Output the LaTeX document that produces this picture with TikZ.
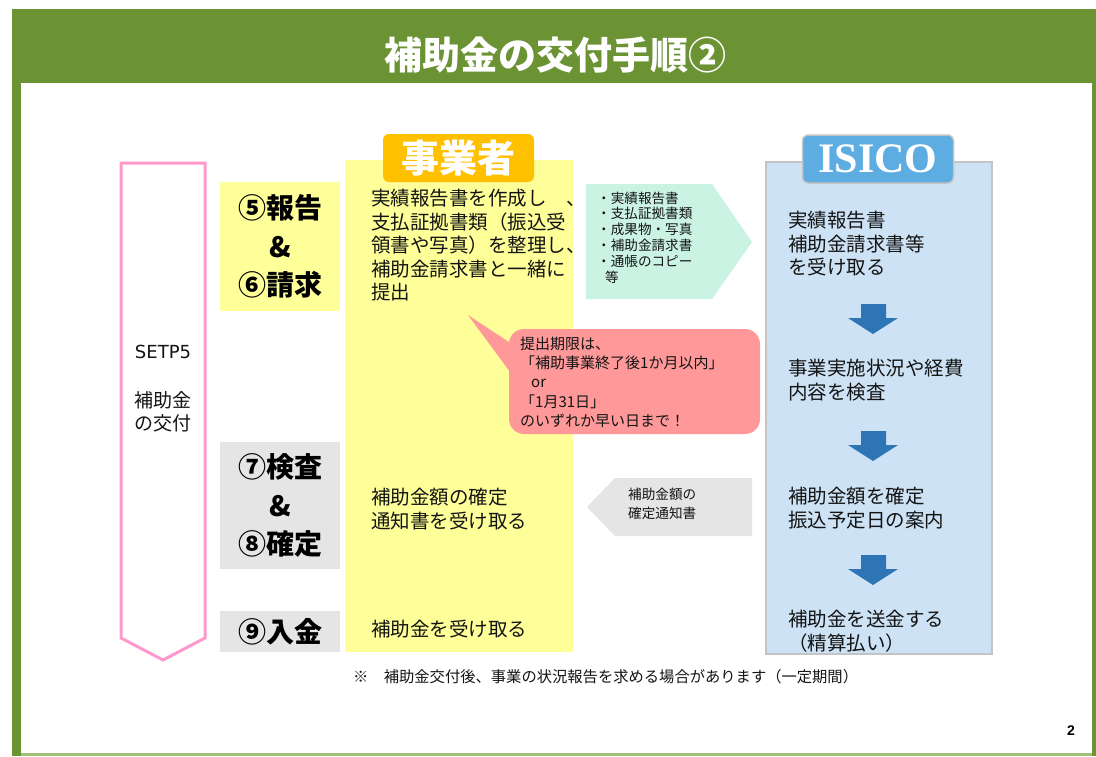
\documentclass[tikz,border=0pt]{standalone}
\usepackage{fontspec}
\setmainfont{Noto Sans CJK JP}
\newfontfamily\isicofont{Liberation Serif}
\newfontfamily\latinfont{DejaVu Sans}
\newfontfamily\pagefont{Liberation Sans}
\usepackage{tikz}

\definecolor{bandgreen}{RGB}{107,147,52}
\definecolor{edgegreen}{RGB}{160,192,120}
\definecolor{pinkline}{RGB}{255,153,204}
\definecolor{colyellow}{RGB}{255,255,153}
\definecolor{stepgrey}{RGB}{229,229,229}
\definecolor{orangelabel}{RGB}{255,192,0}
\definecolor{colblue}{RGB}{205,227,245}
\definecolor{labelblue}{RGB}{93,172,226}
\definecolor{greyline}{RGB}{196,196,196}
\definecolor{arrowblue}{RGB}{46,117,182}
\definecolor{mint}{RGB}{202,243,228}
\definecolor{calloutpink}{RGB}{255,153,153}
\definecolor{textblack}{RGB}{20,20,20}

\begin{document}
\begin{tikzpicture}[x=1pt, y=-1pt,
    body/.style={font=\fontsize{19.5}{23.5}\selectfont, text=textblack, align=left, anchor=north west, inner sep=0pt},
    small/.style={font=\fontsize{13.6}{15.8}\selectfont, text=textblack, align=left, anchor=north west, inner sep=0pt},
    steplabel/.style={font=\fontsize{28}{38.5}\selectfont\bfseries, align=center, inner sep=0pt, minimum width=120pt},
    headlabel/.style={rounded corners=6pt, minimum width=151pt, minimum height=48pt, text=white, inner sep=0pt}]
    \useasboundingbox (0,0) rectangle (1096,756);
    \fill[bandgreen] (12,9) rectangle (1096,756);
    \fill[edgegreen] (21,752) rectangle (1092,756);
    \fill[white] (21,83) rectangle (1092,753);
    \node[font=\fontsize{38}{38}\selectfont\bfseries, text=white] (title) at (555,55) {補助金の交付手順②};

    \draw[pinkline, line width=3pt, fill=white] (121,163) -- (205,163) -- (205,638) -- (163,660) -- (121,638) -- cycle;
    \node[font=\latinfont\fontsize{18}{18}\selectfont, text=textblack] (setp) at (163,352) {SETP5};
    \node[font=\fontsize{19}{23}\selectfont, text=textblack, align=center] (grant) at (163,412) {補助金\\の交付};

    \node[steplabel, fill=colyellow, minimum height=129pt] (report) at (280,246.5) {⑤報告\\\&\\⑥請求};
    \node[steplabel, fill=stepgrey, minimum height=127pt] (inspect) at (280,505.5) {⑦検査\\\&\\⑧確定};
    \node[steplabel, fill=stepgrey, minimum height=41pt] (payment) at (280,631.5) {⑨入金};

    \fill[colyellow] (345,160) rectangle (573,652);
    \node[headlabel, fill=orangelabel, font=\fontsize{38}{38}\selectfont\bfseries] (business) at (458.5,158) {事業者};
    \node[body] (submit) at (371,189) {実績報告書を作成し　、\\支払証拠書類（振込受\\領書や写真）を整理し、\\補助金請求書と一緒に\\提出};
    \node[body] (notice) at (371,488) {補助金額の確定\\通知書を受け取る};
    \node[body] (receive) at (371,620) {補助金を受け取る};

    \draw[greyline, line width=1.5pt, fill=colblue] (766,162) rectangle (992,654);
    \node[headlabel, draw=greyline, line width=1.5pt, fill=labelblue, font=\isicofont\fontsize{42}{42}\selectfont\bfseries] (isico) at (878,159) {ISICO};
    \node[body] (accept) at (788,211) {実績報告書\\補助金請求書等\\を受け取る};
    \node[body] (check) at (788,359) {事業実施状況や経費\\内容を検査};
    \node[body] (fix) at (788,487) {補助金額を確定\\振込予定日の案内};
    \node[body] (send) at (788,610) {補助金を送金する\\（精算払い）};
    \foreach \y in {304,431,555}
        \fill[arrowblue] (861,\y) -- (886,\y) -- (886,\y+14) -- (898,\y+14) -- (873,\y+30) -- (848,\y+14) -- (861,\y+14) -- cycle;

    \fill[mint] (586,184) -- (712,184) -- (752,242) -- (712,299) -- (586,299) -- cycle;
    \node[small] (documents) at (597,191.5) {・実績報告書\\・支払証拠書類\\・成果物・写真\\・補助金請求書\\・通帳のコピー\\\hspace*{8pt}等};
    \fill[stepgrey] (587,507) -- (615,478) -- (752,478) -- (752,536) -- (615,536) -- cycle;
    \node[small, font=\fontsize{13.6}{19}\selectfont] (noticedoc) at (628,488) {補助金額の\\確定通知書};

    \fill[calloutpink] (468,315) -- (530,356) -- (530,399) -- cycle;
    \fill[calloutpink, rounded corners=15pt] (509,329) rectangle (760,434);
    \node[font=\fontsize{15}{19.3}\selectfont, text=textblack, align=left, anchor=north west, inner sep=0pt] (deadline) at (520,336.5) {提出期限は、\\「補助事業終了後1か月以内」\\\hspace*{11pt}or\\「1月31日」\\のいずれか早い日まで！};

    \node[font=\fontsize{15.3}{15.3}\selectfont, text=textblack, anchor=west, inner sep=0pt] (footnote) at (353,677) {※　補助金交付後、事業の状況報告を求める場合があります（一定期間）};
    \node[font=\pagefont\bfseries\fontsize{14}{14}\selectfont] (pagenum) at (1071,731) {2};
\end{tikzpicture}
\end{document}
